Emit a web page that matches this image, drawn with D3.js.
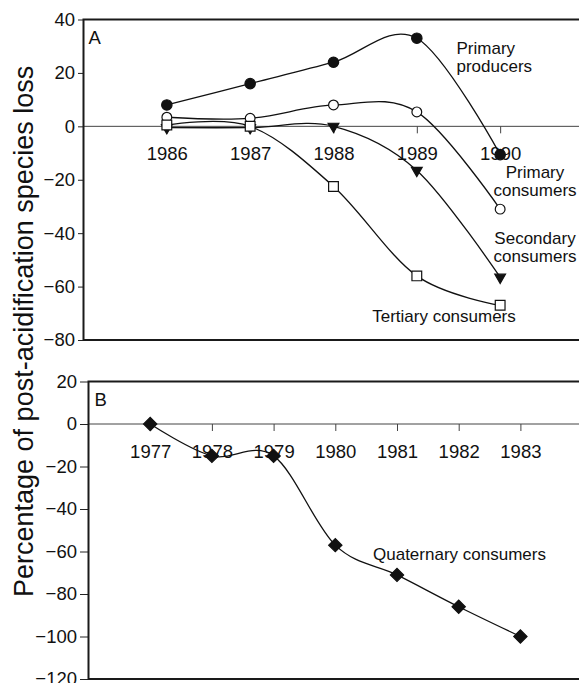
<!DOCTYPE html>
<html>
<head>
<meta charset="utf-8">
<script src="https://cdn.jsdelivr.net/npm/d3@7"></script>
<style>
    body { margin: 0; background: #fff; }
    svg { font-family: "Liberation Sans", Arial, sans-serif; }
</style>
</head>
<body>
<svg id="chart" width="579" height="683"></svg>
<script>
// panel A data
var yearsA = [1986, 1987, 1988, 1989, 1990];
var primaryProducers = [8, 16, 24, 33, -10.6];
var primaryConsumers = [3.4, 3, 8, 5.4, -31];
var secondaryConsumers = [-0.5, -0.5, 0, -16.5, -56.5];
var tertiaryConsumers = [0.5, 0, -22.5, -56, -67];
var ticksA = [40, 20, 0, -20, -40, -60, -80];

// panel B data
var yearsB = [1977, 1978, 1979, 1980, 1981, 1982, 1983];
var quaternaryConsumers = [0, -15, -15, -57, -71, -86, -100];
var ticksB = [20, 0, -20, -40, -60, -80, -100, -120];

var svg = d3.select("#chart");
var W = 579;

var tickFont = "18.5px",
    labelFont = "17px";

var curve = d3.curveCardinal.tension(0);

function drawPanel(p) {
    var g = svg.append("g");

    // zero line
    g.append("line")
        .attr("x1", p.x.range()[0]).attr("x2", W)
        .attr("y1", p.y(0)).attr("y2", p.y(0))
        .attr("stroke", "#444").attr("stroke-width", 1);

    // year ticks along the zero line
    var xAxis = d3.axisBottom(p.x)
        .tickValues(p.years)
        .tickFormat(d3.format("d"))
        .tickSize(7)
        .tickPadding(14);
    var xa = g.append("g")
        .attr("transform", "translate(0," + p.y(0) + ")")
        .call(xAxis);
    xa.select(".domain").remove();
    xa.selectAll("line").attr("stroke", "#444");
    xa.selectAll("text").attr("fill", "#111").style("font-size", tickFont).attr("font-family", null);

    // y axis ticks
    var yAxis = d3.axisLeft(p.y)
        .tickValues(p.ticks)
        .tickSize(p.tickLen)
        .tickPadding(3);
    var ya = g.append("g")
        .attr("transform", "translate(" + p.x.range()[0] + ",0)")
        .call(yAxis);
    ya.select(".domain").remove();
    ya.selectAll("line").attr("stroke", "#222");
    ya.selectAll("text").attr("fill", "#111").style("font-size", tickFont).attr("font-family", null);

    // frame: left, top, bottom
    var x0 = p.x.range()[0], yTop = p.y.range()[1], yBot = p.y.range()[0];
    g.append("path")
        .attr("d", "M" + W + "," + yTop + "H" + x0 + "V" + yBot + "H" + W)
        .attr("fill", "none")
        .attr("stroke", "#1a1a1a")
        .attr("stroke-width", 2);

    // panel letter
    g.append("text")
        .attr("x", x0 + p.letterDx).attr("y", yTop + 24)
        .style("font-size", tickFont)
        .attr("fill", "#111")
        .text(p.letter);

    // series
    p.series.forEach(function(s) {
        var pts = p.years.map(function(yr, i) { return [yr, s.values[i]]; });
        var line = d3.line()
            .x(function(d) { return p.x(d[0]); })
            .y(function(d) { return p.y(d[1]); })
            .curve(curve);
        g.append("path")
            .datum(pts)
            .attr("d", line)
            .attr("fill", "none")
            .attr("stroke", "#111")
            .attr("stroke-width", 1.3);
    });

    p.series.forEach(function(s) {
        var pts = p.years.map(function(yr, i) { return [yr, s.values[i]]; });
        g.selectAll(null)
            .data(pts)
            .enter()
            .append("path")
            .attr("d", d3.symbol().type(s.symbol).size(s.size))
            .attr("transform", function(d) {
                return "translate(" + p.x(d[0]) + "," + p.y(d[1]) + ")" + (s.rotate ? " rotate(" + s.rotate + ")" : "");
            })
            .attr("fill", s.open ? "#fff" : "#111")
            .attr("stroke", "#111")
            .attr("stroke-width", 1.2);
    });

    // annotations
    p.labels.forEach(function(l) {
        var t = g.append("text")
            .attr("text-anchor", l.anchor)
            .style("font-size", labelFont)
            .attr("fill", "#111");
        l.lines.forEach(function(str, i) {
            t.append("tspan")
                .attr("x", l.x)
                .attr("y", l.y + i * 18)
                .text(str);
        });
    });
}

var xA = d3.scaleLinear().domain([1985, 1991]).range([83.5, 83.5 + 6 * 83.33]);
var yA = d3.scaleLinear().domain([-80, 40]).range([340, 19.5]);

drawPanel({
    x: xA, y: yA, years: yearsA, ticks: ticksA, tickLen: 5.5,
    letter: "A", letterDx: 5,
    series: [
        {values: primaryProducers, symbol: d3.symbolCircle, size: 85, open: false},
        {values: primaryConsumers, symbol: d3.symbolCircle, size: 75, open: true},
        {values: secondaryConsumers, symbol: d3.symbolTriangle, size: 50, open: false, rotate: 180},
        {values: tertiaryConsumers, symbol: d3.symbolSquare, size: 95, open: true}
    ],
    labels: [
        {lines: ["Primary", "producers"], x: 456.5, y: 53.5, anchor: "start"},
        {lines: ["Primary", "consumers"], x: 535, y: 178, anchor: "middle"},
        {lines: ["Secondary", "consumers"], x: 535, y: 243.5, anchor: "middle"},
        {lines: ["Tertiary consumers"], x: 444, y: 321.5, anchor: "middle"}
    ]
});

var xB = d3.scaleLinear().domain([1976, 1984]).range([88.5, 88.5 + 8 * 61.7]);
var yB = d3.scaleLinear().domain([-120, 20]).range([679, 381.5]);

drawPanel({
    x: xB, y: yB, years: yearsB, ticks: ticksB, tickLen: 8.5,
    letter: "B", letterDx: 6,
    series: [
        {values: quaternaryConsumers, symbol: d3.symbolSquare, size: 88, open: false, rotate: 45}
    ],
    labels: [
        {lines: ["Quaternary consumers"], x: 373, y: 560, anchor: "start"}
    ]
});

// shared y title
svg.append("text")
    .attr("transform", "translate(33,597) rotate(-90)")
    .attr("text-anchor", "start")
    .style("font-size", "27px")
    .attr("fill", "#111")
    .text("Percentage of post-acidification species loss");
</script>
</body>
</html>
